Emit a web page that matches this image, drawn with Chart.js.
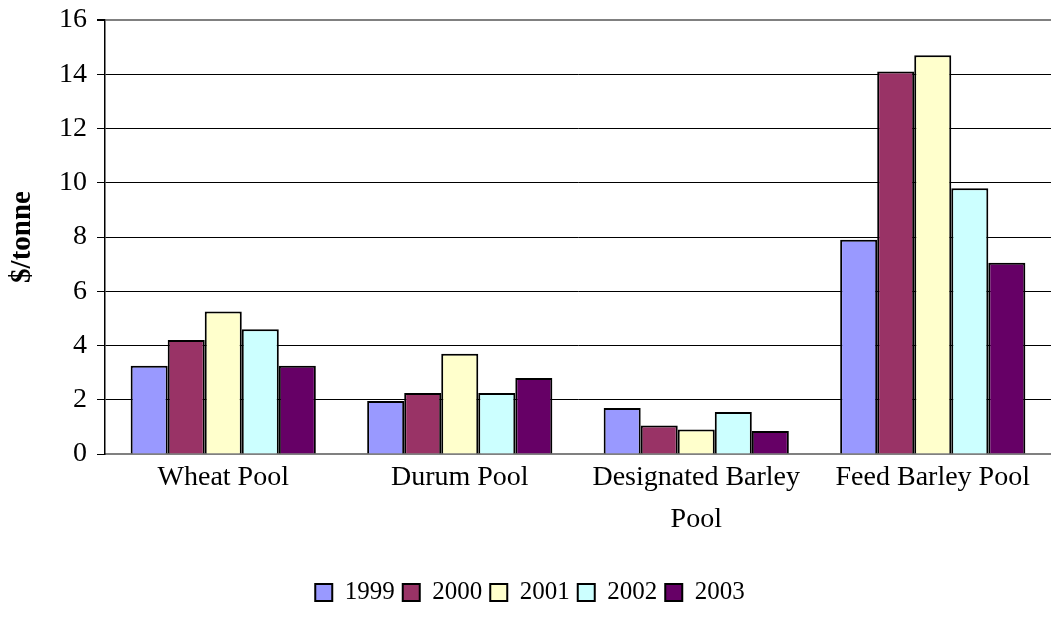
<!DOCTYPE html>
<html>
<head>
<meta charset="utf-8">
<script src="https://cdn.jsdelivr.net/npm/chart.js@4"></script>
<style>
  html, body { margin: 0; padding: 0; background: #fff; }
  #wrap { width: 1051px; height: 631px; }
</style>
</head>
<body>
<div id="wrap"><canvas id="poolChart" width="1051" height="631"></canvas></div>
<script>
// categories and series
const categories = [["Wheat Pool"], ["Durum Pool"], ["Designated Barley", "Pool"], ["Feed Barley Pool"]];
const years = ["1999", "2000", "2001", "2002", "2003"];
const v1999 = [3.25, 1.95, 1.7, 7.9];
const v2000 = [4.2, 2.25, 1.05, 14.1];
const v2001 = [5.25, 3.7, 0.9, 14.7];
const v2002 = [4.6, 2.25, 1.55, 9.8];
const v2003 = [3.25, 2.8, 0.85, 7.05];
const yTicks = [0, 2, 4, 6, 8, 10, 12, 14, 16];

const seriesValues = [v1999, v2000, v2001, v2002, v2003];
const seriesColors = ["#9999FF", "#993366", "#FFFFCC", "#CCFFFF", "#660066"];

const fontFamily = "'Liberation Serif', 'Times New Roman', serif";
Chart.defaults.font.family = fontFamily;
Chart.defaults.color = "#000";

const ctx = document.getElementById("poolChart").getContext("2d");

new Chart(ctx, {
  type: "bar",
  data: {
    labels: categories,
    datasets: years.map((y, i) => ({
      label: y,
      data: seriesValues[i],
      backgroundColor: seriesColors[i],
      borderColor: "#000",
      borderWidth: 2,
      categoryPercentage: 0.783,
      barPercentage: 1.0,
    })),
  },
  options: {
    responsive: false,
    animation: false,
    layout: { padding: { left: 0, right: -9, top: 20, bottom: 16 } },
    plugins: {
      legend: {
        position: "bottom",
        labels: {
          boxWidth: 17,
          boxHeight: 17,
          padding: 8,
          font: { size: 25, family: fontFamily },
        },
      },
      tooltip: { enabled: false },
    },
    scales: {
      x: {
        grid: { display: false, drawTicks: false },
        border: { color: "#808080", width: 2 },
        ticks: {
          padding: 3,
          maxRotation: 0,
          autoSkip: false,
          font: { size: 28, family: fontFamily, lineHeight: 1.5 },
        },
        afterFit: (scale) => { scale.height = 118; },
      },
      y: {
        min: 0,
        max: 16,
        afterBuildTicks: (scale) => { scale.ticks = yTicks.map((v) => ({ value: v })); },
        grid: {
          color: (c) => (c.tick && (c.tick.value === 16 || c.tick.value === 0) ? "#808080" : "#000"),
          lineWidth: (c) => (c.tick && c.tick.value === 16 ? 2 : 1),
          tickLength: 8,
          tickColor: "#000",
        },
        border: { color: "#000", width: 1.5 },
        ticks: {
          padding: 10,
          font: { size: 28, family: fontFamily },
        },
        title: {
          display: true,
          text: "$/tonne",
          font: { size: 29, weight: "bold", family: fontFamily },
          padding: { top: 5, bottom: 0 },
        },
        afterFit: (scale) => {
          scale.width = 105;
          scale.paddingTop = 0;
          scale.paddingBottom = 0;
        },
      },
    },
  },
});
</script>
</body>
</html>
